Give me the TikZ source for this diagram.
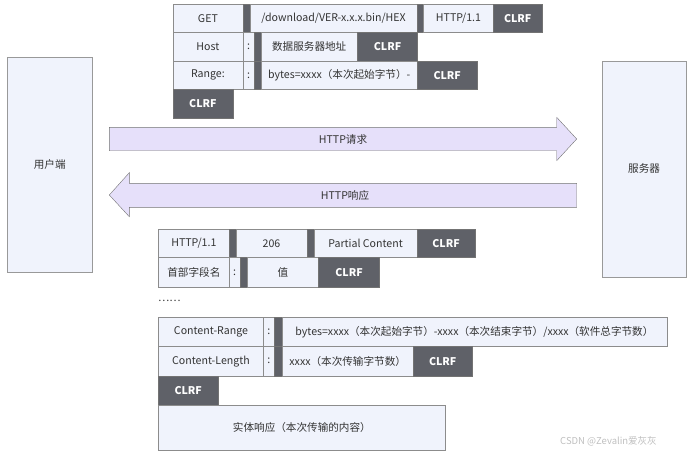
\documentclass[tikz,border=0pt]{standalone}
\usepackage{fontspec}
\setmainfont{Noto Sans CJK SC}
\begin{document}
\begin{tikzpicture}[x=1pt,y=-1pt,
  lbox/.style={draw=black!45,fill=lightfill,text=black!80,inner sep=0pt,font=\fontsize{10.6}{12}\selectfont},
  dbox/.style={draw=black!55,fill=darkfill,text=white,inner sep=0pt,font=\fontsize{10.6}{12}\selectfont\bfseries},
  bigbox/.style={draw=black!40,fill=lightfill,text=black!80,inner sep=0pt,font=\fontsize{10.6}{12}\selectfont},
  arrowshape/.style={draw=black!55,fill=arrowfill},
  lbl/.style={text=black!80,inner sep=0pt,font=\fontsize{10.6}{12}\selectfont}]
\definecolor{lightfill}{HTML}{F0F3FC}
\definecolor{darkfill}{HTML}{5F6168}
\definecolor{arrowfill}{HTML}{E6E0FA}
\newcommand\cell[7]{\node[#2,anchor=north west,minimum width={(#5-#3)*1pt},minimum height={(#6-#4)*1pt}] (#1) at (#3,#4) {#7};}
\useasboundingbox (0,0) rectangle (691,455);
% side boxes
\cell{client}{bigbox}{7.3}{56.7}{91.7}{272.3}{用户端}
\cell{server}{bigbox}{601.7}{60.7}{686}{276.7}{服务器}
% request
\cell{get}{lbox}{172.7}{4}{242.7}{32.3}{GET}
\cell{b1}{dbox}{242.7}{4}{250}{32.3}{}
\cell{url}{lbox}{250}{4}{416.7}{32.3}{/download/VER-x.x.x.bin/HEX}
\cell{b2}{dbox}{416.7}{4}{423.3}{32.3}{}
\cell{ver}{lbox}{423.3}{4}{493.3}{32.3}{HTTP/1.1}
\cell{c1}{dbox}{493.3}{4}{541.7}{32.3}{CLRF}
\cell{host}{lbox}{172.7}{32.3}{242.7}{61}{Host}
\cell{hc}{lbox}{242.7}{32.3}{254}{61}{:}
\cell{hb}{dbox}{254}{32.3}{260.7}{61}{}
\cell{addr}{lbox}{260.7}{32.3}{357.3}{61}{数据服务器地址}
\cell{c2}{dbox}{357.3}{32.3}{417.3}{61}{CLRF}
\cell{range}{lbox}{172.7}{61}{242.7}{89.3}{Range:}
\cell{rc}{lbox}{242.7}{61}{254}{89.3}{:}
\cell{rb}{dbox}{254}{61}{260.7}{89.3}{}
\cell{rbytes}{lbox}{260.7}{61}{417.3}{89.3}{bytes=xxxx（本次起始字节）-}
\cell{c3}{dbox}{417.3}{61}{476.7}{89.3}{CLRF}
\cell{c4}{dbox}{172.7}{89.3}{232.7}{118}{CLRF}
% arrows
\draw[arrowshape] (109.3,127.3) -- (556.7,127.3) -- (556.7,117.3) -- (576.7,139) -- (556.7,160.7) -- (556.7,150.7) -- (109.3,150.7) -- cycle;
\node[lbl] (req) at (343,139) {HTTP请求};
\draw[arrowshape] (576.7,183.3) -- (129.3,183.3) -- (129.3,172.7) -- (109.3,195) -- (129.3,216.7) -- (129.3,207.3) -- (576.7,207.3) -- cycle;
\node[lbl] (resp) at (345,195) {HTTP响应};
% response
\cell{rver}{lbox}{158.3}{229}{229}{257.3}{HTTP/1.1}
\cell{rb1}{dbox}{229}{229}{236}{257.3}{}
\cell{code}{lbox}{236}{229}{306.7}{257.3}{206}
\cell{rb2}{dbox}{306.7}{229}{314}{257.3}{}
\cell{reason}{lbox}{314}{229}{416.7}{257.3}{Partial Content}
\cell{rc1}{dbox}{416.7}{229}{475}{257.3}{CLRF}
\cell{hname}{lbox}{158.3}{257.3}{229}{287.3}{首部字段名}
\cell{hcol}{lbox}{229}{257.3}{240}{287.3}{:}
\cell{hbar}{dbox}{240}{257.3}{247.3}{287.3}{}
\cell{hval}{lbox}{247.3}{257.3}{318.3}{287.3}{值}
\cell{rc2}{dbox}{318.3}{257.3}{379.3}{287.3}{CLRF}
\node[lbl,anchor=west] (dots) at (158,301) {……};
\cell{crn}{lbox}{158.3}{317.3}{263.3}{346}{Content-Range}
\cell{crc}{lbox}{263.3}{317.3}{274}{346}{:}
\cell{crb}{dbox}{274}{317.3}{281.7}{346}{}
\cell{crv}{lbox}{281.7}{317.3}{666.7}{346}{bytes=xxxx（本次起始字节）-xxxx（本次结束字节）/xxxx（软件总字节数）}
\cell{cln}{lbox}{158.3}{346}{263.3}{376}{Content-Length}
\cell{clc}{lbox}{263.3}{346}{274}{376}{:}
\cell{clb}{dbox}{274}{346}{281.7}{376}{}
\cell{clv}{lbox}{281.7}{346}{413.3}{376}{xxxx（本次传输字节数）}
\cell{rc3}{dbox}{413.3}{346}{471.7}{376}{CLRF}
\cell{rc4}{dbox}{158.3}{376}{217.7}{405.3}{CLRF}
\cell{body}{lbox}{158.3}{405.3}{445}{450}{实体响应（本次传输的内容）}
\node[anchor=west,inner sep=0pt,text=black!25,font=\fontsize{9.5}{11}\selectfont] (wm) at (560,441) {CSDN @Zevalin爱灰灰};
\end{tikzpicture}
\end{document}
